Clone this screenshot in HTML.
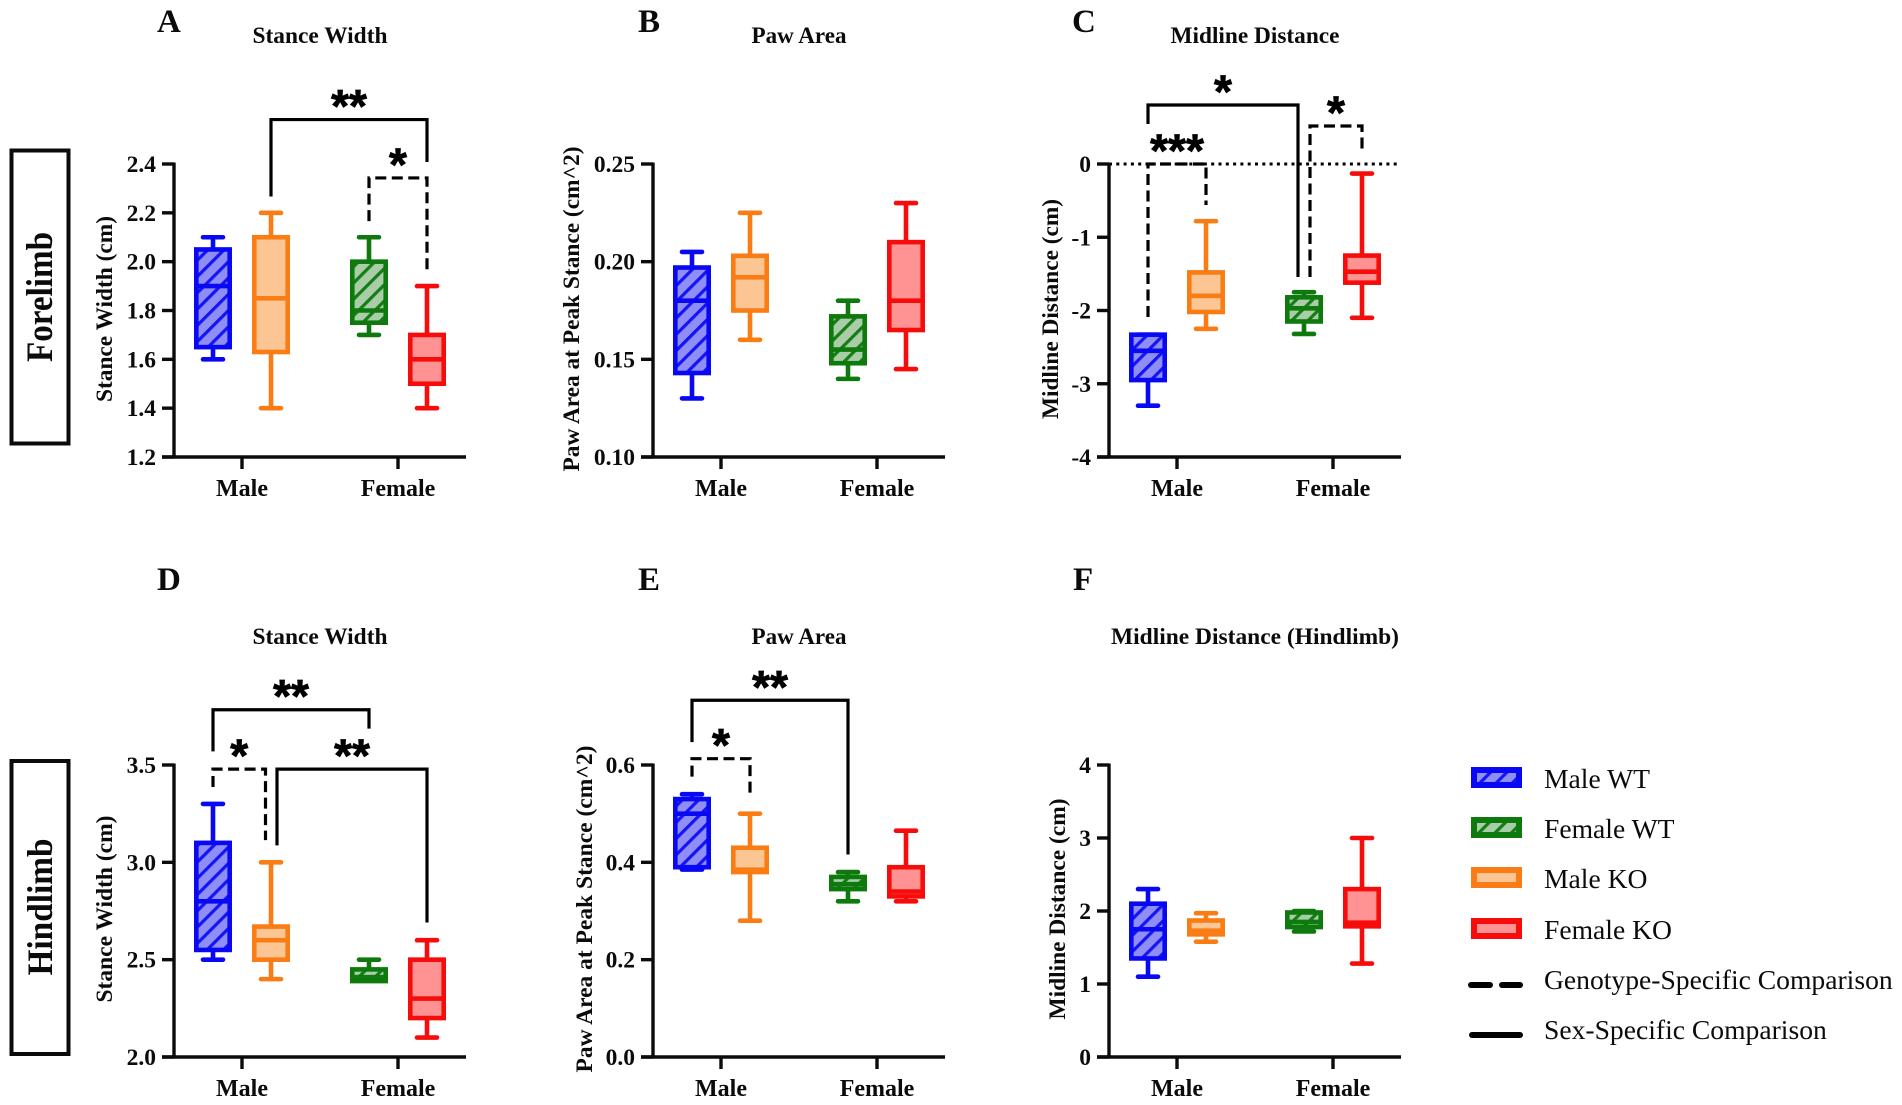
<!DOCTYPE html>
<html lang="en">
<head>
<meta charset="utf-8">
<title>Forelimb and hindlimb gait box plots</title>
<style>
html,body{margin:0;padding:0;background:#fff;}
svg{display:block;}
text{font-family:"Liberation Serif",serif;fill:#0b0b0b;}
.b{font-weight:bold;}
</style>
</head>
<body>
<svg id="figure" xmlns="http://www.w3.org/2000/svg" width="1902" height="1105" viewBox="0 0 1902 1105">
  <defs>
    <pattern id="hatch-blue" patternUnits="userSpaceOnUse" width="11.5" height="11.5" patternTransform="rotate(45)">
      <rect width="11.5" height="11.5" fill="#8e8ef6"/>
      <rect width="3.2" height="11.5" fill="#1414f5"/>
    </pattern>
    <pattern id="hatch-green" patternUnits="userSpaceOnUse" width="11.5" height="11.5" patternTransform="rotate(45)">
      <rect width="11.5" height="11.5" fill="#a8cda8"/>
      <rect width="3.2" height="11.5" fill="#157d15"/>
    </pattern>
  </defs>
  <rect width="1902" height="1105" fill="#ffffff"/>

  <g>
    <rect x="11.5" y="150.5" width="57" height="293" fill="none" stroke="#0b0b0b" stroke-width="4"/>
    <text class="b" font-size="37" text-anchor="middle" textLength="130" lengthAdjust="spacingAndGlyphs" transform="translate(52,297) rotate(-90)">Forelimb</text>
  </g>
  <g>
    <rect x="11.5" y="761" width="57" height="293" fill="none" stroke="#0b0b0b" stroke-width="4"/>
    <text class="b" font-size="36" text-anchor="middle" textLength="137" lengthAdjust="spacingAndGlyphs" transform="translate(52,907) rotate(-90)">Hindlimb</text>
  </g>

  <g id="panels"></g>

  <g>
    <g>
      <rect x="1474" y="770" width="45" height="15" fill="url(#hatch-blue)" stroke="#0808f5" stroke-width="6"/>
      <text x="1544" y="788" font-size="27.6">Male WT</text>
    </g>
    <g>
      <rect x="1474" y="820" width="45" height="15" fill="url(#hatch-green)" stroke="#0e7a0e" stroke-width="6"/>
      <text x="1544" y="838" font-size="27.6">Female WT</text>
    </g>
    <g>
      <rect x="1474" y="870" width="45" height="15" fill="#fcc594" stroke="#f97d14" stroke-width="6"/>
      <text x="1544" y="888" font-size="27.6">Male KO</text>
    </g>
    <g>
      <rect x="1474" y="921" width="45" height="15" fill="#ff9292" stroke="#f70c0c" stroke-width="6"/>
      <text x="1544" y="939" font-size="27.6">Female KO</text>
    </g>
    <g>
      <line x1="1471" y1="985" x2="1490" y2="985" stroke="#000" stroke-width="6" stroke-linecap="round"/>
      <line x1="1502" y1="985" x2="1520" y2="985" stroke="#000" stroke-width="6" stroke-linecap="round"/>
      <text x="1544" y="989" font-size="27.6">Genotype-Specific Comparison</text>
    </g>
    <g>
      <line x1="1472" y1="1035" x2="1520" y2="1035" stroke="#000" stroke-width="6" stroke-linecap="round"/>
      <text x="1544" y="1039" font-size="27.6">Sex-Specific Comparison</text>
    </g>
  </g>
</svg>

<script>
// Shared categories and series (order within every value array below)
const categories = ['Male', 'Female'];
const seriesNames = ['Male WT', 'Male KO', 'Female WT', 'Female KO'];

// Panel A: forelimb stance width
const panelAYTicks = [1.2, 1.4, 1.6, 1.8, 2.0, 2.2, 2.4];
const panelATickLabels = ['1.2', '1.4', '1.6', '1.8', '2.0', '2.2', '2.4'];
const panelAWhiskerLow = [1.6, 1.4, 1.7, 1.4];
const panelAQ1 = [1.65, 1.63, 1.75, 1.5];
const panelAMedian = [1.9, 1.85, 1.8, 1.6];
const panelAQ3 = [2.05, 2.1, 2.0, 1.7];
const panelAWhiskerHigh = [2.1, 2.2, 2.1, 1.9];

// Panel B: forelimb paw area
const panelBYTicks = [0.10, 0.15, 0.20, 0.25];
const panelBTickLabels = ['0.10', '0.15', '0.20', '0.25'];
const panelBWhiskerLow = [0.13, 0.16, 0.14, 0.145];
const panelBQ1 = [0.143, 0.175, 0.148, 0.165];
const panelBMedian = [0.18, 0.192, 0.155, 0.18];
const panelBQ3 = [0.197, 0.203, 0.172, 0.21];
const panelBWhiskerHigh = [0.205, 0.225, 0.18, 0.23];

// Panel C: forelimb midline distance
const panelCYTicks = [-4, -3, -2, -1, 0];
const panelCTickLabels = ['-4', '-3', '-2', '-1', '0'];
const panelCWhiskerLow = [-3.3, -2.25, -2.32, -2.1];
const panelCQ1 = [-2.95, -2.02, -2.15, -1.62];
const panelCMedian = [-2.55, -1.8, -1.97, -1.47];
const panelCQ3 = [-2.33, -1.48, -1.82, -1.25];
const panelCWhiskerHigh = [-2.33, -0.78, -1.75, -0.13];

// Panel D: hindlimb stance width
const panelDYTicks = [2.0, 2.5, 3.0, 3.5];
const panelDTickLabels = ['2.0', '2.5', '3.0', '3.5'];
const panelDWhiskerLow = [2.5, 2.4, 2.4, 2.1];
const panelDQ1 = [2.55, 2.5, 2.39, 2.2];
const panelDMedian = [2.8, 2.6, 2.41, 2.3];
const panelDQ3 = [3.1, 2.67, 2.45, 2.5];
const panelDWhiskerHigh = [3.3, 3.0, 2.5, 2.6];

// Panel E: hindlimb paw area
const panelEYTicks = [0.0, 0.2, 0.4, 0.6];
const panelETickLabels = ['0.0', '0.2', '0.4', '0.6'];
const panelEWhiskerLow = [0.385, 0.28, 0.32, 0.32];
const panelEQ1 = [0.39, 0.38, 0.345, 0.33];
const panelEMedian = [0.5, 0.385, 0.355, 0.34];
const panelEQ3 = [0.53, 0.43, 0.37, 0.39];
const panelEWhiskerHigh = [0.54, 0.5, 0.38, 0.465];

// Panel F: hindlimb midline distance
const panelFYTicks = [0, 1, 2, 3, 4];
const panelFTickLabels = ['0', '1', '2', '3', '4'];
const panelFWhiskerLow = [1.1, 1.58, 1.72, 1.28];
const panelFQ1 = [1.35, 1.68, 1.78, 1.79];
const panelFMedian = [1.75, 1.73, 1.85, 1.84];
const panelFQ3 = [2.1, 1.87, 1.98, 2.3];
const panelFWhiskerHigh = [2.3, 1.97, 2.0, 3.0];

// Significance brackets: values on each panel's y scale
const panelABrackets = [
  { type: 'solid', from: 1, to: 3, low: 2.267, top: 2.582, high: 2.408, stars: '**' },
  { type: 'dashed', from: 2, to: 3, low: 2.166, top: 2.343, high: 1.966, stars: '*' }
];
const panelBBrackets = [];
const panelCBrackets = [
  { type: 'solid', from: 0, to: 2, toShift: -6, low: 0.546, top: 0.805, high: -1.543, stars: '*' },
  { type: 'dashed', from: 0, to: 1, low: -2.089, top: 0, high: -0.56, stars: '***' },
  { type: 'dashed', from: 2, fromShift: 6, to: 3, low: -1.543, top: 0.519, high: 0.15, stars: '*' }
];
const panelDBrackets = [
  { type: 'solid', from: 0, to: 2, low: 3.57, top: 3.784, high: 3.687, stars: '**' },
  { type: 'dashed', from: 0, to: 1, toShift: -5.5, low: 3.387, top: 3.479, high: 3.114, stars: '*' },
  { type: 'solid', from: 1, fromShift: 6, to: 3, low: 3.087, top: 3.479, high: 2.691, stars: '**' }
];
const panelEBrackets = [
  { type: 'solid', from: 0, to: 2, low: 0.647, top: 0.733, high: 0.416, stars: '**' },
  { type: 'dashed', from: 0, to: 1, low: 0.576, top: 0.613, high: 0.538, stars: '*' }
];
const panelFBrackets = [];

const seriesStyles = [
  { stroke: '#0808f5', fill: 'url(#hatch-blue)' },
  { stroke: '#f97d14', fill: '#fcc594' },
  { stroke: '#0e7a0e', fill: 'url(#hatch-green)' },
  { stroke: '#f70c0c', fill: '#ff9292' }
];

const panels = [
  { id: 'a', letter: 'A', title: 'Stance Width', yTitle: 'Stance Width (cm)', axisX: 174, top: 164, bottom: 457, letterX: 157, letterY: 32, titleX: 320, titleY: 43, titleLen: 135, yLabelX: 112, yLabelY: 309, yLabelLen: 186, ticks: panelAYTicks, labels: panelATickLabels, lo: panelAWhiskerLow, q1: panelAQ1, med: panelAMedian, q3: panelAQ3, hi: panelAWhiskerHigh, brackets: panelABrackets },
  { id: 'b', letter: 'B', title: 'Paw Area', yTitle: 'Paw Area at Peak Stance (cm^2)', axisX: 653, top: 164, bottom: 457, letterX: 638, letterY: 32, titleX: 799, titleY: 43, titleLen: 95, yLabelX: 579, yLabelY: 309, yLabelLen: 325, ticks: panelBYTicks, labels: panelBTickLabels, lo: panelBWhiskerLow, q1: panelBQ1, med: panelBMedian, q3: panelBQ3, hi: panelBWhiskerHigh, brackets: panelBBrackets },
  { id: 'c', letter: 'C', title: 'Midline Distance', yTitle: 'Midline Distance (cm)', axisX: 1109, top: 164, bottom: 457, letterX: 1072, letterY: 32, titleX: 1255, titleY: 43, titleLen: 169, yLabelX: 1058, yLabelY: 309, yLabelLen: 220, ticks: panelCYTicks, labels: panelCTickLabels, lo: panelCWhiskerLow, q1: panelCQ1, med: panelCMedian, q3: panelCQ3, hi: panelCWhiskerHigh, brackets: panelCBrackets, zeroLine: true },
  { id: 'd', letter: 'D', title: 'Stance Width', yTitle: 'Stance Width (cm)', axisX: 174, top: 765, bottom: 1057, letterX: 157, letterY: 590, titleX: 320, titleY: 644, titleLen: 135, yLabelX: 112, yLabelY: 909, yLabelLen: 187, ticks: panelDYTicks, labels: panelDTickLabels, lo: panelDWhiskerLow, q1: panelDQ1, med: panelDMedian, q3: panelDQ3, hi: panelDWhiskerHigh, brackets: panelDBrackets },
  { id: 'e', letter: 'E', title: 'Paw Area', yTitle: 'Paw Area at Peak Stance (cm^2)', axisX: 653, top: 765, bottom: 1057, letterX: 638, letterY: 590, titleX: 799, titleY: 644, titleLen: 95, yLabelX: 592, yLabelY: 909, yLabelLen: 327, ticks: panelEYTicks, labels: panelETickLabels, lo: panelEWhiskerLow, q1: panelEQ1, med: panelEMedian, q3: panelEQ3, hi: panelEWhiskerHigh, brackets: panelEBrackets },
  { id: 'f', letter: 'F', title: 'Midline Distance (Hindlimb)', yTitle: 'Midline Distance (cm)', axisX: 1109, top: 765, bottom: 1057, letterX: 1073, letterY: 590, titleX: 1255, titleY: 644, titleLen: 288, yLabelX: 1065, yLabelY: 909, yLabelLen: 221, ticks: panelFYTicks, labels: panelFTickLabels, lo: panelFWhiskerLow, q1: panelFQ1, med: panelFMedian, q3: panelFQ3, hi: panelFWhiskerHigh, brackets: panelFBrackets }
];

const NS = 'http://www.w3.org/2000/svg';
const INK = '#0b0b0b';
const BOX_STROKE = 4.6;

function mk(parent, tag, attrs, content) {
  const node = document.createElementNS(NS, tag);
  for (const key in attrs) node.setAttribute(key, attrs[key]);
  if (content !== undefined) node.textContent = content;
  parent.appendChild(node);
  return node;
}

function categoryX(axisX, catIndex) {
  return axisX + 68 + catIndex * 156;
}

function seriesX(axisX, seriesIndex) {
  const catIndex = Math.floor(seriesIndex / 2);
  const side = seriesIndex % 2 === 0 ? -29 : 29;
  return categoryX(axisX, catIndex) + side;
}

function yAxisScale(panel) {
  const min = panel.ticks[0];
  const max = panel.ticks[panel.ticks.length - 1];
  return function (value) {
    return panel.bottom - (value - min) / (max - min) * (panel.bottom - panel.top);
  };
}

function drawAxes(g, p, y) {
  const axisStroke = { stroke: INK, 'stroke-width': 3.4, fill: 'none' };
  const spine = mk(g, 'line', Object.assign({ x1: p.axisX, y1: p.top - 1.5, x2: p.axisX, y2: p.bottom + 1.5 }, axisStroke));
  
  
  const base = mk(g, 'line', Object.assign({ x1: p.axisX - 12, y1: p.bottom, x2: p.axisX + 292, y2: p.bottom }, axisStroke));
  
  

  p.ticks.forEach(function (value, i) {
    const mark = mk(g, 'line', Object.assign({ x1: p.axisX - 12, y1: y(value), x2: p.axisX, y2: y(value) }, axisStroke));
    
    
    const label = mk(g, 'text', { x: p.axisX - 18, y: y(value) + 8, 'text-anchor': 'end', 'font-size': 23.5, 'class': 'b' }, p.labels[i]);
    
    
  });

  categories.forEach(function (cat, i) {
    const cx = categoryX(p.axisX, i);
    const mark = mk(g, 'line', Object.assign({ x1: cx, y1: p.bottom, x2: cx, y2: p.bottom + 12 }, axisStroke));
    
    
    const label = mk(g, 'text', { x: cx, y: p.bottom + 39, 'text-anchor': 'middle', 'font-size': 24, 'class': 'b' }, cat);
    
    
  });
}

function drawBoxes(g, p, y) {
  seriesNames.forEach(function (name, i) {
    const cx = seriesX(p.axisX, i);
    const style = seriesStyles[i];
    const box = mk(g, 'g', {});
    
    
    const line = { stroke: style.stroke, 'stroke-width': BOX_STROKE };
    const capLine = { stroke: style.stroke, 'stroke-width': BOX_STROKE, 'stroke-linecap': 'round' };

    const whisker = mk(box, 'line', Object.assign({ x1: cx, y1: y(p.lo[i]), x2: cx, y2: y(p.hi[i]) }, line));
    
    
    const capLow = mk(box, 'line', Object.assign({ x1: cx - 10, y1: y(p.lo[i]), x2: cx + 10, y2: y(p.lo[i]) }, capLine));
    
    
    const capHigh = mk(box, 'line', Object.assign({ x1: cx - 10, y1: y(p.hi[i]), x2: cx + 10, y2: y(p.hi[i]) }, capLine));
    
    
    const rect = mk(box, 'rect', { x: cx - 16.7, y: y(p.q3[i]), width: 33.4, height: y(p.q1[i]) - y(p.q3[i]), fill: style.fill, stroke: style.stroke, 'stroke-width': BOX_STROKE });
    
    
    const median = mk(box, 'line', Object.assign({ x1: cx - 16.7, y1: y(p.med[i]), x2: cx + 16.7, y2: y(p.med[i]) }, line));
    
    
  });
}

function drawBrackets(g, p, y) {
  p.brackets.forEach(function (b) {
    const xa = seriesX(p.axisX, b.from) + (b.fromShift || 0);
    const xb = seriesX(p.axisX, b.to) + (b.toShift || 0);
    const yt = y(b.top);
    const attrs = { d: 'M' + xa + ' ' + y(b.low) + ' V' + yt + ' H' + xb + ' V' + y(b.high), fill: 'none', stroke: '#000', 'stroke-width': 3.2 };
    if (b.type === 'dashed') attrs['stroke-dasharray'] = '11 5.5';
    const path = mk(g, 'path', attrs);
    
    
    const star = mk(g, 'text', { x: (xa + xb) / 2, y: yt + 2.5, 'text-anchor': 'middle', 'font-size': 46, 'font-weight': 'bold', stroke: '#000', 'stroke-width': 0.8, style: 'font-family:"Liberation Sans",sans-serif;fill:#000' }, b.stars);
    
    
  });
}

const root = document.getElementById('panels');
panels.forEach(function (p) {
  const g = mk(root, 'g', {});
  
  
  const y = yAxisScale(p);

  const letter = mk(g, 'text', { x: p.letterX, y: p.letterY, 'font-size': 33, 'class': 'b' }, p.letter);
  
  
  const title = mk(g, 'text', { x: p.titleX, y: p.titleY, 'text-anchor': 'middle', 'font-size': 23, 'class': 'b', textLength: p.titleLen, lengthAdjust: 'spacingAndGlyphs' }, p.title);
  
  
  const yLabel = mk(g, 'text', { transform: 'translate(' + p.yLabelX + ',' + p.yLabelY + ') rotate(-90)', 'text-anchor': 'middle', 'font-size': 23, 'class': 'b', textLength: p.yLabelLen, lengthAdjust: 'spacingAndGlyphs' }, p.yTitle);
  
  

  if (p.zeroLine) {
    const zero = mk(g, 'line', { x1: p.axisX, y1: y(0), x2: p.axisX + 290, y2: y(0), stroke: '#000', 'stroke-width': 3, 'stroke-dasharray': '3 4.3' });
    
    
  }

  drawBoxes(g, p, y);
  drawAxes(g, p, y);
  drawBrackets(g, p, y);
});
</script>
</body>
</html>
